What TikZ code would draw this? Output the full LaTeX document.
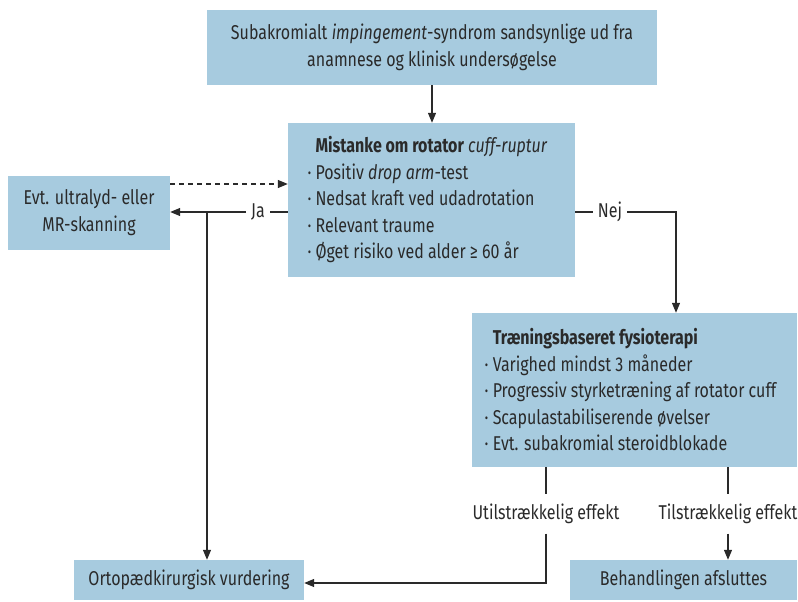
\documentclass[tikz,border=0pt]{standalone}
\usepackage{fontspec}
\setmainfont[FakeStretch=0.80]{Fira Sans}
\usetikzlibrary{arrows.meta,calc}
\definecolor{boxblue}{HTML}{A7CBDF}
\definecolor{ink}{HTML}{2A2A2A}
\begin{document}
\begin{tikzpicture}[x=1pt,y=-1pt,
  box/.style={fill=boxblue, draw=none, text=ink, inner sep=0pt, font=\fontsize{20}{26.5}\selectfont, align=center},
  lbl/.style={text=ink, font=\fontsize{20}{26.5}\selectfont, inner xsep=5pt, inner ysep=2pt},
  vlbl/.style={text=ink, font=\fontsize{20}{26.5}\selectfont, inner xsep=2pt, inner ysep=9.5pt},
  conn/.style={draw=ink, line width=1.2pt},
  arr/.style={conn, -{Triangle[length=10pt,width=8pt]}}]
\useasboundingbox (0,0) rectangle (798,602);

\node[box, minimum width=450, minimum height=75] (top) at (432,47.5)
  {Subakromialt \textit{impingement}-syndrom sandsynlige ud fra\\anamnese og klinisk undersøgelse};
\node[box, align=left, minimum width=287, minimum height=154] (mist) at (431.5,200)
  {\textbf{Mistanke om rotator} \textit{cuff-ruptur}\\
   \llap{·\ }Positiv \textit{drop arm}-test\\
   \llap{·\ }Nedsat kraft ved udadrotation\\
   \llap{·\ }Relevant traume\\
   \llap{·\ }Øget risiko ved alder ≥ 60 år};
\node[box, minimum width=162, minimum height=74] (scan) at (89,212.5)
  {Evt. ultralyd- eller\\MR-skanning};
\node[box, align=left, minimum width=325, minimum height=154] (trae) at (634.5,390)
  {\textbf{Træningsbaseret fysioterapi}\\
   \llap{·\ }Varighed mindst 3 måneder\\
   \llap{·\ }Progressiv styrketræning af rotator cuff\\
   \llap{·\ }Scapulastabiliserende øvelser\\
   \llap{·\ }Evt. subakromial steroidblokade};
\node[box, minimum width=230, minimum height=40] (orto) at (189,580) {Ortopædkirurgisk vurdering};
\node[box, minimum width=227, minimum height=40] (beh) at (683.5,580) {Behandlingen afsluttes};

\node[lbl] (ja) at (258,212) {Ja};
\node[lbl] (nej) at (610,212) {Nej};
\node[vlbl] (util) at (546,514) {Utilstrækkelig effekt};
\node[vlbl] (til) at (728,514) {Tilstrækkelig effekt};
\coordinate (jct) at (207,212);
\coordinate (nejdown) at (676,212);

\draw[arr] (top.south) -- (top.south |- mist.north);
\draw[arr, dash pattern=on 5pt off 4pt] ([yshift=28.5pt]scan.east) -- ([yshift=28.5pt]scan.east -| mist.west);
\draw[conn] ([yshift=-12pt]mist.west) -- (ja.east);
\draw[arr] (ja.west) -- (ja.west -| scan.east);
\draw[arr] (jct) -- (jct |- orto.north);
\draw[conn] ([yshift=-12pt]mist.east) -- (nej.west);
\draw[arr] (nej.east) -- (nejdown) -- (nejdown |- trae.north);
\draw[conn] (trae.south -| util.north) -- (util.north);
\draw[arr] (util.south) |- ([yshift=-3pt]orto.east);
\draw[conn] (trae.south -| til.north) -- (til.north);
\draw[arr] (til.south) -- (til.south |- beh.north);
\end{tikzpicture}
\end{document}
